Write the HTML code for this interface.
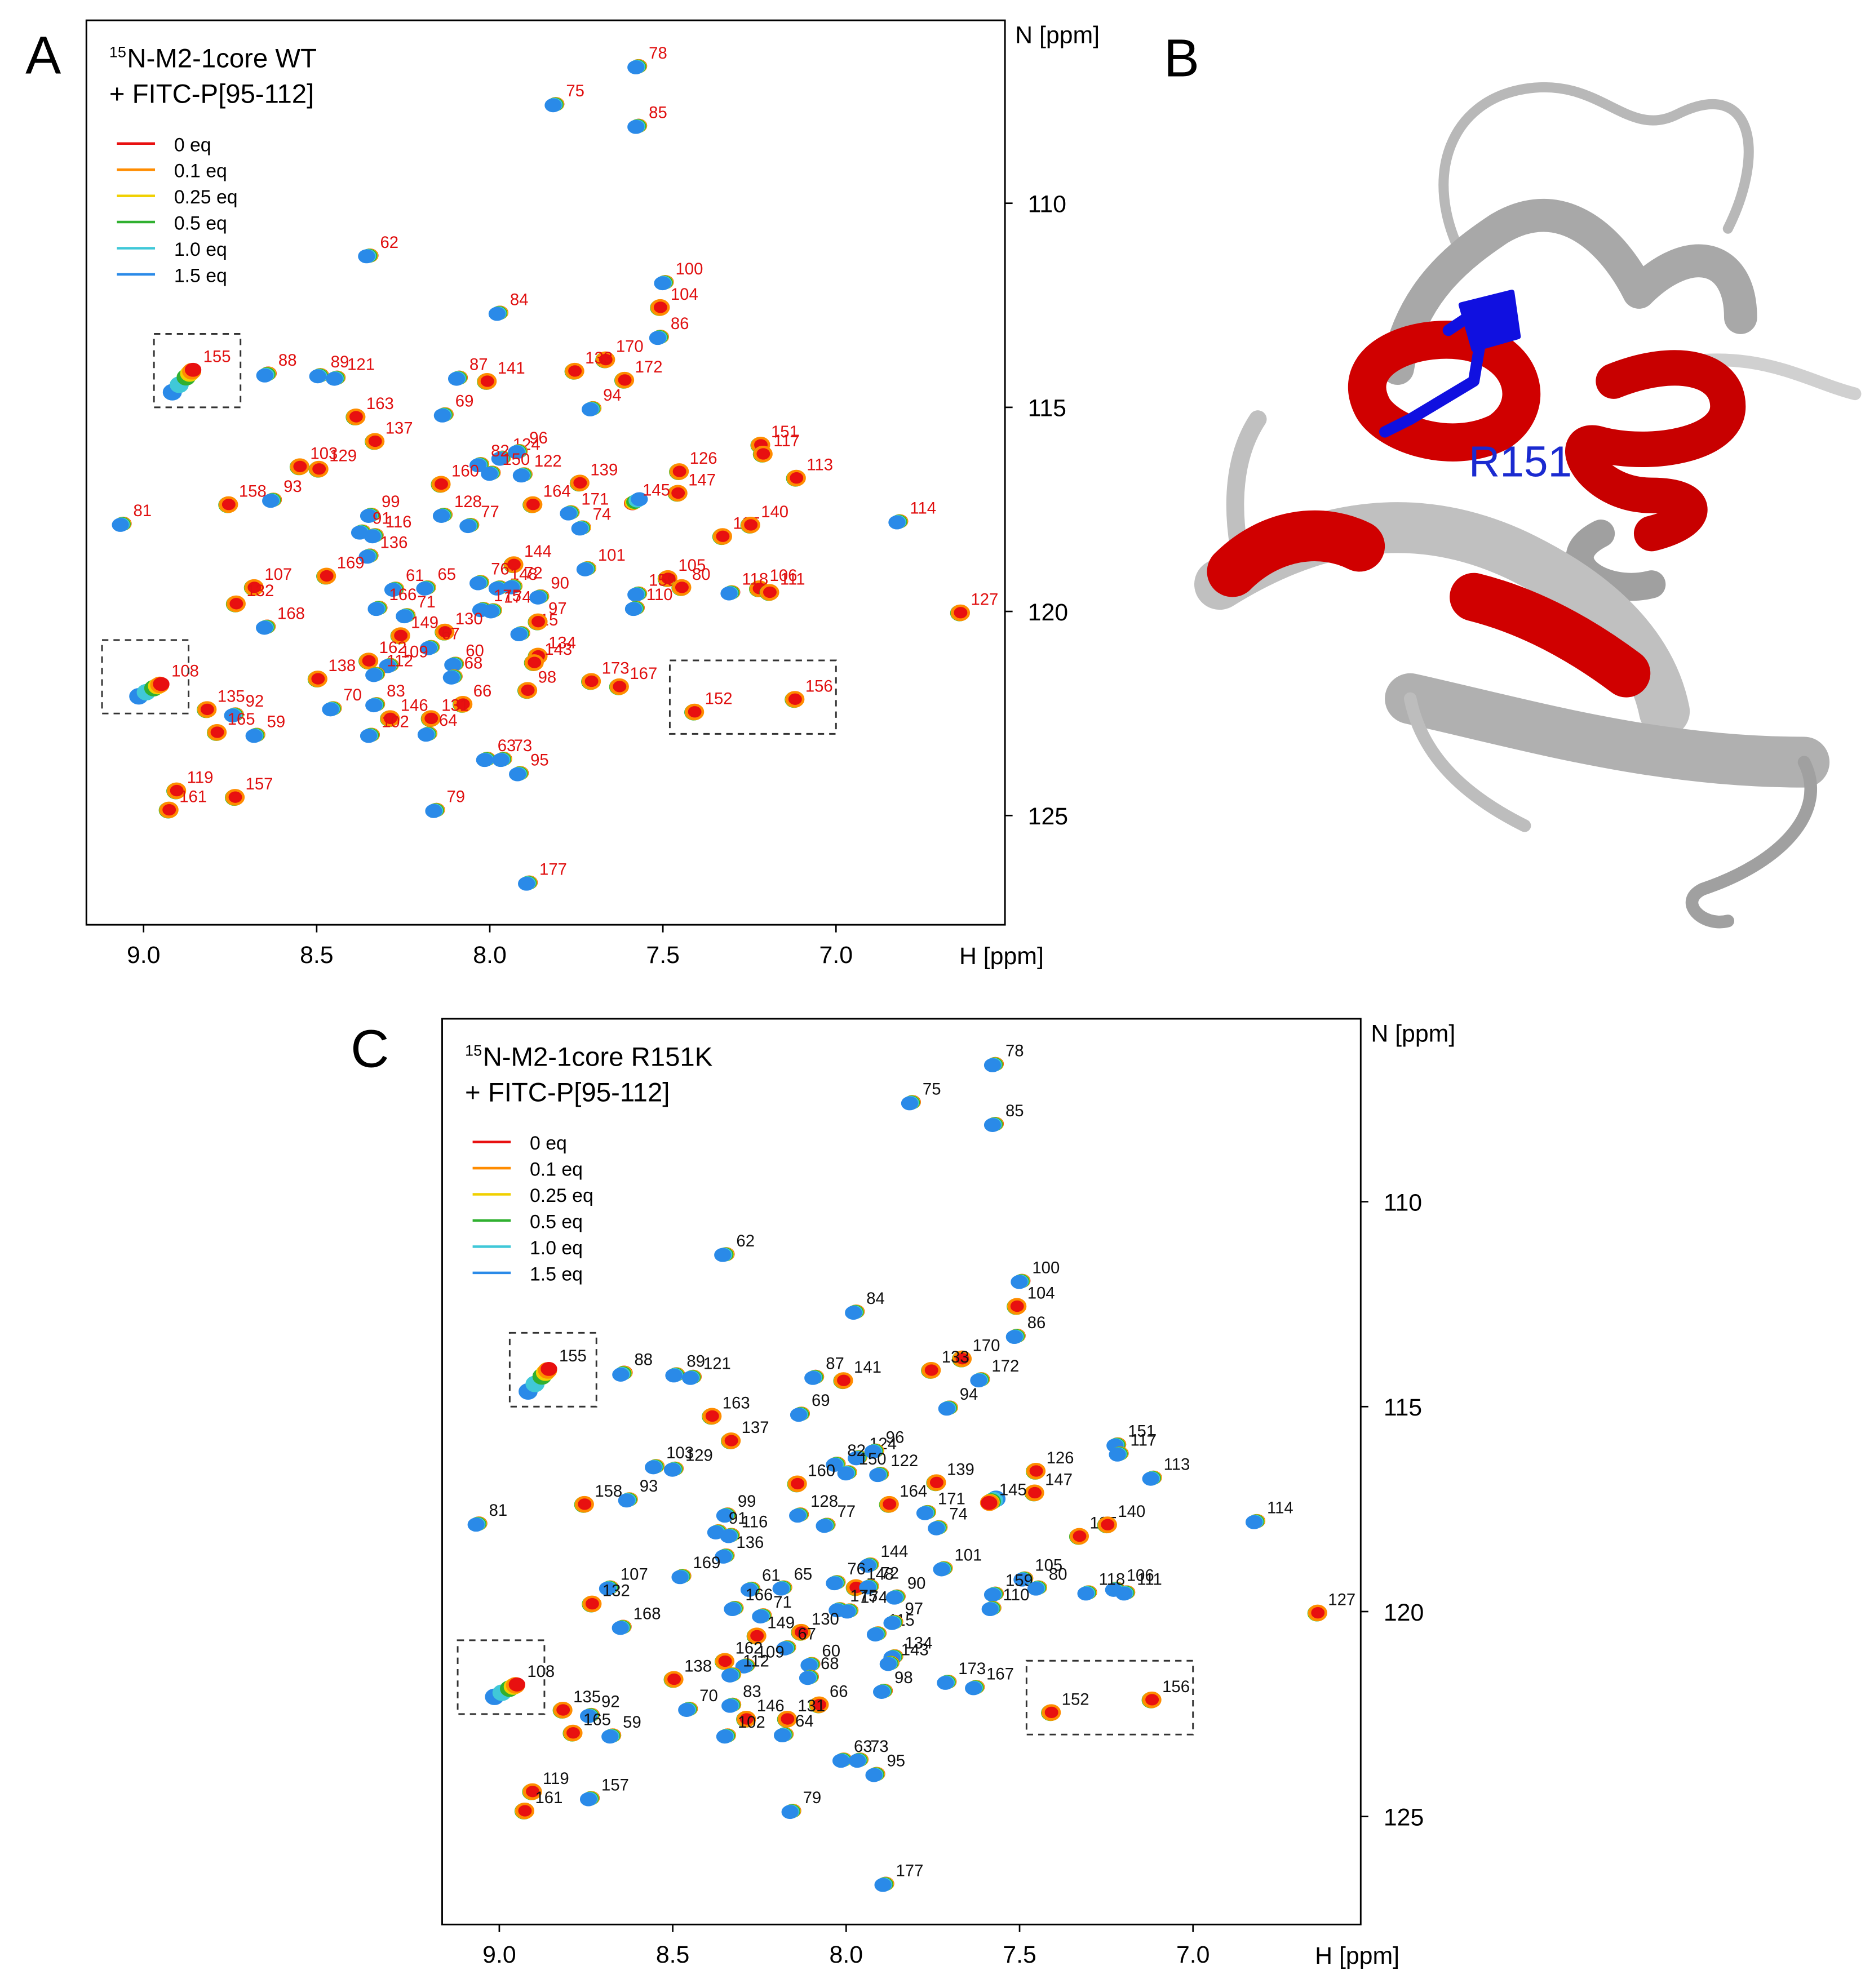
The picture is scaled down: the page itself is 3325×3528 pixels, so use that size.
<!DOCTYPE html>
<html><head><meta charset="utf-8"><style>
html,body{margin:0;padding:0;background:#fff}
svg{display:block;font-family:"Liberation Sans",Arial,sans-serif}
</style></head><body>
<svg id="fig" width="3325" height="3528" viewBox="0 0 1475 1565" preserveAspectRatio="none" xmlns="http://www.w3.org/2000/svg">
<rect width="1475" height="1565" fill="#fff"/>
<text x="20" y="58" font-size="42">A</text>
<text x="916" y="60" font-size="42">B</text>
<text x="276" y="840" font-size="42">C</text>
<g id="panelA"></g>
<g id="panelC"></g>
<g id="panelB">
  <g fill="none" stroke-linecap="round" stroke-linejoin="round">
    <path d="M1150 200 C1120 140 1140 80 1200 70 C1260 60 1280 110 1320 90 C1380 60 1390 120 1360 180" stroke="#b8b8b8" stroke-width="8"/>
    <path d="M1100 290 C1110 230 1150 200 1180 180 C1230 150 1270 190 1290 230" stroke="#a8a8a8" stroke-width="26"/>
    <path d="M1290 230 C1330 190 1370 200 1370 250" stroke="#a8a8a8" stroke-width="26"/>
    <path d="M1300 290 C1380 270 1420 300 1460 310" stroke="#d0d0d0" stroke-width="10"/>
    <path d="M1080 320 C1060 280 1120 260 1160 270 C1200 280 1210 320 1180 340 C1140 360 1090 340 1080 320" stroke="#d00000" stroke-width="30"/>
    <path d="M1270 300 C1320 280 1360 290 1360 320 C1360 350 1300 360 1260 350 C1230 340 1250 390 1300 390 C1340 390 1340 410 1300 420" stroke="#c80000" stroke-width="28"/>
    <path d="M1260 420 C1220 440 1260 470 1300 460" stroke="#a0a0a0" stroke-width="22"/>
    <path d="M990 330 C970 360 970 400 975 430" stroke="#c0c0c0" stroke-width="14"/>
    <path d="M960 460 C1040 410 1120 400 1200 440 C1260 470 1300 510 1310 560" stroke="#c0c0c0" stroke-width="40"/>
    <path d="M970 450 C1000 420 1040 415 1070 430" stroke="#d00000" stroke-width="40"/>
    <path d="M1160 470 C1200 480 1240 500 1280 530" stroke="#d00000" stroke-width="38"/>
    <path d="M1110 550 C1200 570 1300 600 1420 600" stroke="#b0b0b0" stroke-width="40"/>
    <path d="M1420 600 C1440 640 1400 680 1340 700 C1320 710 1340 730 1360 725" stroke="#a0a0a0" stroke-width="10"/>
    <path d="M1110 550 C1120 600 1160 630 1200 650" stroke="#bdbdbd" stroke-width="10"/>
    <path d="M1140 260 L1170 240 L1160 300 L1110 330 L1090 340" stroke="#1010e0" stroke-width="9"/>
    <path d="M1150 240 L1190 230 L1195 265 L1160 275 Z" fill="#1010e0" stroke="#1010e0" stroke-width="4"/>
  </g>
  <text x="1156" y="375" font-size="34" fill="#1a2ad0">R151</text>
</g>
<script>
var residues=["78","75","85","62","100","104","86","84","170","133","172","155","88","89","121","87","141","163","69","94","137","151","117","103","129","124","96","82","160","150","122","139","126","147","113","158","93","99","128","145","81","91","116","77","164","171","74","125","140","114","136","144","101","105","169","107","76","148","72","106","111","61","65","166","71","175","174","90","159","80","118","127","132","168","110","149","130","115","97","67","162","109","134","143","112","60","68","173","167","98","108","138","135","92","70","83","146","66","152","156","165","59","131","102","64","63","73","95","119","157","161","79","177"];
var hShift=[7.570,7.809,7.570,8.346,7.493,7.507,7.507,7.971,7.665,7.754,7.610,8.857,8.640,8.489,8.441,8.088,8.007,8.386,8.129,7.702,8.331,7.217,7.210,8.548,8.493,7.963,7.915,8.026,8.140,7.993,7.901,7.739,7.452,7.456,7.114,8.754,8.625,8.342,8.132,7.588,9.059,8.368,8.331,8.055,7.875,7.765,7.732,7.327,7.246,6.816,8.346,7.930,7.717,7.485,8.471,8.680,8.026,7.971,7.930,7.221,7.191,8.272,8.180,8.320,8.239,8.018,7.989,7.853,7.570,7.445,7.301,6.640,8.732,8.643,7.577,8.257,8.129,7.908,7.860,8.169,8.349,8.287,7.860,7.871,8.327,8.099,8.103,7.706,7.625,7.890,8.949,8.496,8.816,8.735,8.452,8.327,8.287,8.077,7.408,7.118,8.787,8.673,8.169,8.342,8.176,8.007,7.960,7.912,8.904,8.735,8.926,8.154,7.886];
var nShift=[106.64,107.57,108.10,111.28,111.93,112.55,113.27,112.68,113.83,114.11,114.33,114.08,114.17,114.21,114.27,114.27,114.36,115.23,115.17,115.02,115.83,115.92,116.14,116.45,116.51,116.23,116.07,116.39,116.88,116.60,116.64,116.85,116.57,117.10,116.73,117.38,117.26,117.63,117.63,117.35,117.85,118.04,118.13,117.88,117.38,117.57,117.94,118.16,117.88,117.79,118.63,118.85,118.94,119.19,119.13,119.41,119.28,119.41,119.38,119.44,119.53,119.44,119.41,119.91,120.09,119.94,119.97,119.63,119.56,119.41,119.53,120.03,119.81,120.37,119.91,120.59,120.50,120.53,120.25,120.87,121.21,121.31,121.09,121.25,121.53,121.28,121.59,121.71,121.84,121.93,121.78,121.65,122.40,122.52,122.37,122.27,122.62,122.27,122.46,122.15,122.96,123.02,122.62,123.02,122.99,123.61,123.61,123.96,124.39,124.55,124.86,124.86,126.64];
var bigShiftRes=["155","108","88","62","145"];
var bigShiftH=[0.060,0.065,0.010,0.010,-0.020];
var bigShiftN=[0.55,0.30,0.05,0.02,-0.10];
var fadedA=["155","163","137","141","158","127","152","156","135","165","161","132","138","162","149","130","146","66","131","98","167","140","147","126","139","164","104","172","170","133","103","129","160","106","111","80","97","144","151","117","113","119","157","108","107","169","173","125","105","134","143"];
var fadedC=["163","158","141","138","135","165","161","127","152","156","119","132","162","149","130","146","66","131","140","145","139","164","108","155","137","126","147","104","133","170","160","148","125"];
var eqLabels=["0 eq","0.1 eq","0.25 eq","0.5 eq","1.0 eq","1.5 eq"];
var eqFrac=[0,0.1,0.25,0.5,1.0,1.5];
var eqColors=["#e81010","#ff8c00","#f0d000","#30b030","#40c8d8","#2a8ae8"];
var xTicks=[9.0,8.5,8.0,7.5,7.0];
var yTicks=[110,115,120,125];
var NS="http://www.w3.org/2000/svg";
function mk(tag,attrs,parent){var e=document.createElementNS(NS,tag);for(var k in attrs)e.setAttribute(k,attrs[k]);parent.appendChild(e);return e;}
function panel(gid,x0,y0,x1,y1,hx9,hx7,ny110,ny125,title1,title2,labelColor,faded){
  var g=document.getElementById(gid);
  var X=function(h){return hx9+(9-h)*(hx7-hx9)/2;};
  var Y=function(n){return ny110+(n-110)*(ny125-ny110)/15;};
  var fr=mk('rect',{x:x0,y:y0,width:x1-x0,height:y1-y0,fill:'none',stroke:'#000','stroke-width':1.3},g);
  
  
  xTicks.forEach(function(t){
    mk('line',{x1:X(t),x2:X(t),y1:y1,y2:y1+6,stroke:'#000','stroke-width':1.2},g);
    var tx=mk('text',{x:X(t),y:y1+30,'font-size':19,'text-anchor':'middle'},g);tx.textContent=t.toFixed(1);
    
    
  });
  yTicks.forEach(function(t){
    mk('line',{x1:x1,x2:x1+6,y1:Y(t),y2:Y(t),stroke:'#000','stroke-width':1.2},g);
    var tx=mk('text',{x:x1+18,y:Y(t)+7,'font-size':19},g);tx.textContent=t;
    
    
  });
  var xl=mk('text',{x:x1-36,y:y1+31,'font-size':19},g);xl.textContent='H [ppm]';
  
  
  var yl=mk('text',{x:x1+8,y:y0+18,'font-size':19},g);yl.textContent='N [ppm]';
  
  
  var sup=mk('text',{x:x0+18,y:y0+29,'font-size':12},g);sup.textContent='15';
  
  
  var t1=mk('text',{x:x0+32,y:y0+37,'font-size':21},g);t1.textContent=title1;
  
  
  var t2=mk('text',{x:x0+18,y:y0+65,'font-size':21},g);t2.textContent=title2;
  
  
  eqLabels.forEach(function(l,i){
    var yy=y0+97+i*20.6;
    var ln=mk('line',{x1:x0+24,x2:x0+54,y1:yy,y2:yy,stroke:eqColors[i],'stroke-width':2},g);
    
    
    var lt=mk('text',{x:x0+69,y:yy+6,'font-size':15},g);lt.textContent=l;
    
    
  });
  residues.forEach(function(r,i){
    var bi=bigShiftRes.indexOf(r);
    var dh=bi>=0?bigShiftH[bi]:0.008, dn=bi>=0?bigShiftN[bi]:0.03;
    var pg=mk('g',{},g);
    
    
    var isF=faded.indexOf(r)>=0;
    var order=isF?[5,4,3,2,1,0]:[0,1,2,3,4,5];
    order.forEach(function(k){
      if(isF && k>=4 && bi<0) return;
      var f=eqFrac[k];
      var cx=X(hShift[i]+dh*f/1.5), cy=Y(nShift[i]+dn*f/1.5);
      var rx=isF?(k==0?4.8:7):6.2, ry=isF?(k==0?4:6):5;
      if(isF&&k==0&&bi>=0){rx=6;ry=5;}
      var e=mk('ellipse',{cx:cx,cy:cy,rx:rx,ry:ry,fill:eqColors[k],stroke:eqColors[k],'stroke-width':1},pg);
      
      
    });
    var lb=mk('text',{x:X(hShift[i])+8,y:Y(nShift[i])-6,'font-size':13,fill:labelColor},g);lb.textContent=r;
    
    
  });
  var boxes=[[155,8.97,8.72,113.2,115.0],[108,9.12,8.87,120.7,122.5],[152,7.48,7.0,121.2,123.0]];
  boxes.forEach(function(b){
    var bx=mk('rect',{x:X(b[1]),y:Y(b[3]),width:X(b[2])-X(b[1]),height:Y(b[4])-Y(b[3]),fill:'none',stroke:'#333','stroke-width':1.3,'stroke-dasharray':'5,4'},g);
    
    
  });
}
panel('panelA',68,16,791,728,113,658,160,642,'N-M2-1core WT','+ FITC-P[95-112]','#e01010',fadedA);
panel('panelC',348,802,1071,1515,393,939,946,1430,'N-M2-1core R151K','+ FITC-P[95-112]','#111',fadedC);
</script>
</svg>
</body></html>
